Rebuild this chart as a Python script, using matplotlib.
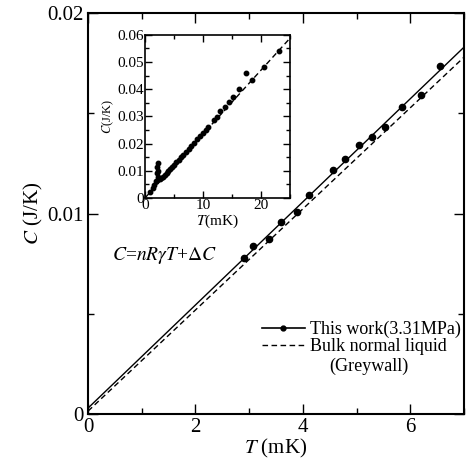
import matplotlib
matplotlib.use("Agg")
import matplotlib.pyplot as plt
from matplotlib.ticker import MultipleLocator, FixedFormatter, FixedLocator
from matplotlib.lines import Line2D

plt.rcParams['font.family'] = ['Liberation Serif', 'DejaVu Serif']
plt.rcParams['mathtext.fontset'] = 'stix'

# main panel data
T_meas = [2.90, 3.07, 3.37, 3.59, 3.89, 4.11, 4.56, 4.78, 5.04, 5.28, 5.53, 5.84, 6.20, 6.55]
C_meas = [0.0078, 0.0084, 0.00875, 0.0096, 0.0101, 0.01095, 0.0122, 0.0127,
          0.0134, 0.0138, 0.0143, 0.0153, 0.0159, 0.01735]
T_fit = [0.0, 7.0]
C_fit = [0.0003, 0.0183]
T_grey = [0.0, 7.0]
C_grey = [0.00015, 0.0178]

# inset data
T_ins = [0.9, 1.3, 1.6, 1.9, 2.0, 2.1, 2.15, 2.2, 2.3, 2.5, 2.8, 3.1, 3.4, 3.7, 4.0,
         4.3, 4.6, 5.0, 5.4, 5.8, 6.2, 6.6, 7.0, 7.5, 8.0, 8.5, 9.0, 9.5, 10.0, 10.5,
         10.9, 11.8, 12.4, 12.9, 13.7, 14.4, 15.1, 16.2, 17.4, 18.4, 20.5, 23.0]
C_ins = [0.0022, 0.0035, 0.0048, 0.0062, 0.0090, 0.0112, 0.0129, 0.0100, 0.0075,
         0.0068, 0.0072, 0.0078, 0.0085, 0.0092, 0.0099, 0.0106, 0.0113, 0.0122,
         0.0131, 0.0140, 0.0150, 0.0159, 0.0168, 0.0180, 0.0191, 0.0203, 0.0215,
         0.0226, 0.0238, 0.0250, 0.0262, 0.0285, 0.0299, 0.0318, 0.0335, 0.0352,
         0.0370, 0.0400, 0.0460, 0.0435, 0.0480, 0.0540]
T_ins_line = [0.0, 25.0]
C_ins_line = [0.0, 0.0588]

fig = plt.figure(figsize=(4.71, 4.70), dpi=100)
ax = fig.add_axes([0.187, 0.119, 0.798, 0.853])

ax.plot(T_fit, C_fit, color='black', lw=1.0)
ax.plot(T_grey, C_grey, color='black', lw=1.0, ls=(0, (4, 2.5)))
ax.plot(T_meas, C_meas, 'o', color='black', ms=4.5)

ax.set_xlim(0, 7)
ax.set_ylim(0, 0.02)
ax.xaxis.set_major_locator(FixedLocator([0, 2, 4, 6]))
ax.xaxis.set_major_formatter(FixedFormatter(['0', '2', '4', '6']))
ax.xaxis.set_minor_locator(MultipleLocator(1))
ax.yaxis.set_major_locator(FixedLocator([0, 0.01, 0.02]))
ax.yaxis.set_major_formatter(FixedFormatter(['0', '0.01', '0.02']))
ax.yaxis.set_minor_locator(MultipleLocator(0.005))
ax.tick_params(which='both', direction='in', top=True, right=True, labelsize=15, pad=3)
ax.tick_params(which='major', length=7, width=1)
ax.tick_params(which='minor', length=4, width=1)
for s in ax.spines.values():
    s.set_linewidth(1.5)
ax.set_xlabel('$T$ (mK)', fontsize=15, labelpad=0)
ax.set_ylabel('$C$ (J/K)', fontsize=15, labelpad=2)

ax.text(0.45, 0.0077, r'$C$=$nR\gamma T$+$\Delta C$', fontsize=14)

handles = [Line2D([], [], color='black', lw=1.2, marker='o', ms=3.5),
           Line2D([], [], color='black', lw=1.0, ls=(0, (4, 2.5)))]
leg = ax.legend(handles, ['This work(3.31MPa)', 'Bulk normal liquid'],
                loc='lower right', bbox_to_anchor=(1.022, 0.12), frameon=False,
                fontsize=13, handlelength=2.4, handletextpad=0.3, labelspacing=0.0,
                borderpad=0.1)
ax.text(0.747, 0.12, '(Greywall)', transform=ax.transAxes, fontsize=13,
        ha='center', va='center')

# inset
axi = fig.add_axes([0.308, 0.579, 0.308, 0.347])
axi.plot(T_ins_line, C_ins_line, color='black', lw=1.0, ls=(0, (4, 2.5)))
axi.plot(T_ins, C_ins, 'o', color='black', ms=3.2)
axi.set_xlim(0, 25)
axi.set_ylim(0, 0.06)
axi.xaxis.set_major_locator(FixedLocator([0, 10, 20]))
axi.xaxis.set_major_formatter(FixedFormatter(['0', '10', '20']))
axi.xaxis.set_minor_locator(MultipleLocator(5))
axi.yaxis.set_major_locator(FixedLocator([0, 0.01, 0.02, 0.03, 0.04, 0.05, 0.06]))
axi.yaxis.set_major_formatter(FixedFormatter(['0', '0.01', '0.02', '0.03', '0.04', '0.05', '0.06']))
axi.yaxis.set_minor_locator(MultipleLocator(0.005))
axi.tick_params(which='both', direction='in', top=True, right=True, labelsize=11, pad=1)
axi.tick_params(which='major', length=5, width=1)
axi.tick_params(which='minor', length=3, width=1)
for s in axi.spines.values():
    s.set_linewidth(1.2)
axi.set_xlabel('$T$(mK)', fontsize=11, labelpad=0)
axi.set_ylabel('$C$(J/K)', fontsize=9, labelpad=1)

fig.savefig('out.png', dpi=100)
